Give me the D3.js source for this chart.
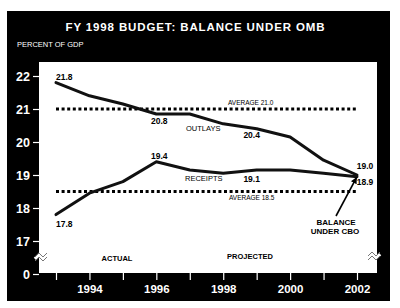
<!DOCTYPE html>
<html>
<head>
<meta charset="utf-8">
<script src="https://cdn.jsdelivr.net/npm/d3@7"></script>
<style>
  body { margin: 0; background: #fff; }
  svg { display: block; font-family: "Liberation Sans", Arial, sans-serif; }
</style>
</head>
<body>
<div id="chart"></div>
<script>
// values (percent of GDP)
const years = [1993, 1994, 1995, 1996, 1997, 1998, 1999, 2000, 2001, 2002];
const outlays = [21.8, 21.4, 21.15, 20.85, 20.85, 20.55, 20.4, 20.15, 19.45, 19.0];
const receipts = [17.8, 18.45, 18.8, 19.4, 19.15, 19.05, 19.15, 19.15, 19.05, 18.95];
const averages = [21.0, 18.5];
const yTicks = [16, 17, 18, 19, 20, 21, 22];   // 16 is shown as "0" (broken axis)
const xLabelYears = [1994, 1996, 1998, 2000, 2002];

const W = 400, H = 308;
const svg = d3.select("#chart").append("svg")
    .attr("width", W)
    .attr("height", H);

// black panel + white plot area
svg.append("rect").attr("x", 7).attr("y", 11).attr("width", 383).attr("height", 290).attr("fill", "#000");
svg.append("rect").attr("x", 39).attr("y", 62).attr("width", 338).attr("height", 211).attr("fill", "#fff");

var x = d3.scaleLinear().domain([1993, 2002]).range([56, 357]),
    y = d3.scaleLinear().domain([16, 22]).range([274, 76]);

svg.append("text")
    .attr("x", 195).attr("y", 31)
    .attr("text-anchor", "middle")
    .attr("fill", "#fff")
    .attr("font-size", 11.5)
    .attr("font-weight", "bold")
    .attr("textLength", 259)
    .text("FY 1998  BUDGET:  BALANCE  UNDER  OMB");

svg.append("text")
    .attr("x", 17).attr("y", 47)
    .attr("fill", "#fff")
    .attr("font-size", 7.5)
    .text("PERCENT OF GDP");

// axes
const yAxis = svg.append("g")
    .attr("transform", "translate(39,0)")
    .call(d3.axisLeft(y).tickValues(yTicks).tickSize(6).tickPadding(3)
        .tickFormat(d => d === 16 ? "0" : d));
yAxis.select(".domain").remove();
yAxis.selectAll("line").attr("stroke", "#fff").attr("stroke-width", 1.2);
yAxis.selectAll("text")
    .attr("fill", "#fff")
    .attr("font-size", 12.5)
    .attr("font-weight", "bold")
    .attr("font-family", "Liberation Sans, Arial, sans-serif");

const xAxis = svg.append("g")
    .attr("transform", "translate(0,273)")
    .call(d3.axisBottom(x).tickValues(years).tickSize(7).tickPadding(5)
        .tickFormat(d => xLabelYears.includes(d) ? d : ""));
xAxis.select(".domain").remove();
xAxis.selectAll("line").attr("stroke", "#fff").attr("stroke-width", 1.2);
xAxis.selectAll("text")
    .attr("fill", "#fff")
    .attr("font-size", 11.5)
    .attr("font-weight", "bold")
    .attr("font-family", "Liberation Sans, Arial, sans-serif");

// average lines (square dots)
svg.selectAll(".avg")
    .data(averages)
    .enter().append("line")
    .attr("class", "avg")
    .attr("x1", x(1993)).attr("x2", x(2002))
    .attr("y1", d => y(d)).attr("y2", d => y(d))
    .attr("stroke", "#000")
    .attr("stroke-width", 3)
    .attr("stroke-dasharray", "3,2.6");

// series lines
const line = d3.line()
    .x((d, i) => x(years[i]))
    .y(d => y(d));

[outlays, receipts].forEach(function(s) {
  svg.append("path")
      .attr("d", line(s))
      .attr("fill", "none")
      .attr("stroke", "#111")
      .attr("stroke-width", 3)
      .attr("stroke-linejoin", "round")
      .attr("stroke-linecap", "round");
});

function label(txt, px, py, size, weight, anchor) {
  svg.append("text")
      .attr("x", px).attr("y", py)
      .attr("font-size", size)
      .attr("font-weight", weight || "normal")
      .attr("text-anchor", anchor || "start")
      .attr("fill", "#000")
      .text(txt);
}

// value labels
label(outlays[0].toFixed(1), x(1993) + 0, y(outlays[0]) - 3, 8.5, "bold");
label("20.8", x(1996) + 3, y(outlays[3]) + 10, 8.5, "bold", "middle");
label("20.4", x(1999) - 5, y(outlays[6]) + 9, 8.5, "bold", "middle");
label("19.0", x(2002) + 8, y(outlays[9]) - 6, 8.5, "bold", "middle");
label("19.4", x(1996) + 3, y(receipts[3]) - 3, 8.5, "bold", "middle");
label("19.1", x(1999) - 5, y(receipts[6]) + 12, 8.5, "bold", "middle");
label("18.9", x(2002) + 8, y(receipts[9]) + 8, 8.5, "bold", "middle");
label(receipts[0].toFixed(1), x(1993), y(receipts[0]) + 12, 8.5, "bold");

label("OUTLAYS", 186, 131, 7.5);
label("RECEIPTS", 185, 181, 7.5);
label("AVERAGE " + averages[0].toFixed(1), 228, y(averages[0]) - 4, 6.5);
label("AVERAGE " + averages[1].toFixed(1), 229, y(averages[1]) + 8, 6.5);

label("BALANCE", 336, 225, 8, "bold", "middle");
label("UNDER CBO", 335, 234, 8, "bold", "middle");
label("ACTUAL", 117, 261, 7.5, "bold", "middle");
label("PROJECTED", 250, 259, 7.5, "bold", "middle");

// arrow to the 2002 point
svg.append("defs").append("marker")
    .attr("id", "arrow")
    .attr("viewBox", "0 0 10 10")
    .attr("refX", 9).attr("refY", 5)
    .attr("markerWidth", 4).attr("markerHeight", 4)
    .attr("orient", "auto")
  .append("path")
    .attr("d", "M0,0 L10,5 L0,10 z")
    .attr("fill", "#000");

svg.append("line")
    .attr("x1", 336).attr("y1", 216)
    .attr("x2", x(2002) - 0.5).attr("y2", y(receipts[9]) + 1)
    .attr("stroke", "#000")
    .attr("stroke-width", 1.6)
    .attr("marker-end", "url(#arrow)");

// axis break marks
function breakMark(cx, cy) {
  const g = svg.append("g").attr("transform", "translate(" + cx + "," + cy + ")");
  g.append("path")
      .attr("d", "M-6,2 L-2,-2 L2,2 L6,-2")
      .attr("fill", "none").attr("stroke", "#fff").attr("stroke-width", 3.5);
  g.append("path")
      .attr("d", "M-6,0 L-2,-4 L2,0 L6,-4 M-6,4 L-2,0 L2,4 L6,0")
      .attr("fill", "none").attr("stroke", "#777").attr("stroke-width", 1);
}
breakMark(41, 257);
breakMark(374, 256);
</script>
</body>
</html>
